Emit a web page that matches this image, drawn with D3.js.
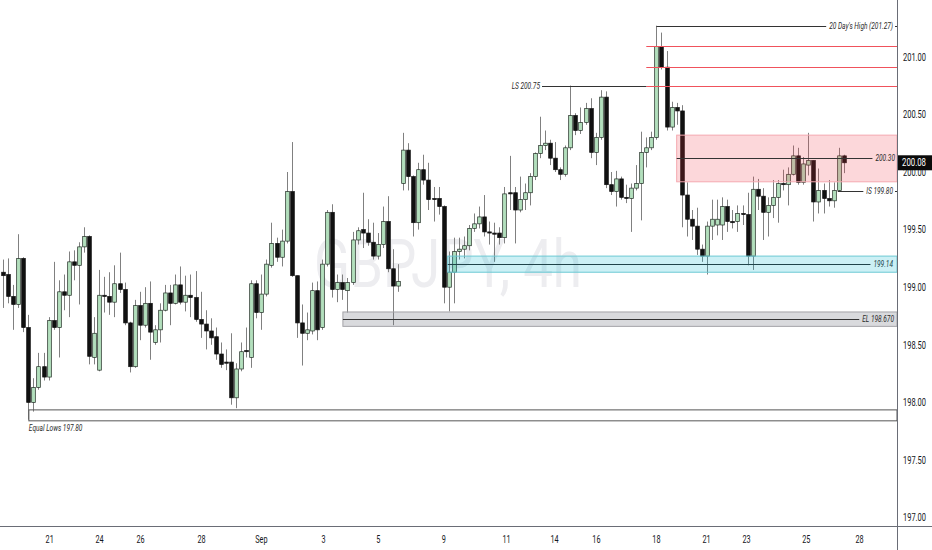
<!DOCTYPE html>
<html>
<head>
<meta charset="utf-8">
<script src="https://cdn.jsdelivr.net/npm/d3@7"></script>
<style>
  body { margin: 0; background: #fff; }
  svg { display: block; font-family: Roboto, "Liberation Sans", sans-serif; }
</style>
</head>
<body>
<svg id="chart"></svg>
<script>
// GBPJPY 4h candles (one entry per candle)
const open = [199.13,199.11,198.92,198.85,199.25,198.65,198.00,198.13,198.31,198.22,198.71,198.65,198.96,198.93,199.22,199.19,199.35,199.44,198.39,198.28,
  198.93,198.92,198.87,199.03,198.98,198.69,198.31,198.84,198.67,198.86,198.52,198.63,198.80,198.95,198.86,199.02,198.87,198.93,198.91,198.72,
  198.68,198.62,198.57,198.42,198.35,198.35,198.04,198.29,198.45,198.39,199.03,198.78,198.94,199.19,199.38,199.26,199.40,199.83,199.10,198.69,
  198.60,198.62,198.97,198.65,199.20,199.65,198.98,199.04,198.97,199.04,199.41,199.50,199.47,199.39,199.27,199.37,199.57,199.16,199.01,199.90,
  200.19,199.96,199.56,200.02,199.93,199.77,199.77,199.70,199.00,199.13,199.31,199.33,199.36,199.51,199.55,199.61,199.48,199.47,199.47,199.43,
  199.82,199.82,199.67,199.76,199.82,199.96,200.16,200.23,200.25,200.12,200.02,199.98,200.21,200.49,200.36,200.43,200.55,200.17,200.30,200.65,
  199.89,199.83,199.94,199.78,199.77,199.86,199.90,200.17,200.21,200.30,201.09,200.91,200.39,200.56,200.53,199.80,199.59,199.53,199.33,199.27,
  199.53,199.54,199.54,199.70,199.57,199.57,199.64,199.63,199.27,199.85,199.79,199.65,199.71,199.78,199.90,199.89,199.98,200.14,199.91,200.06,
  200.10,199.74,199.84,199.77,199.75,199.84,200.14];
const high = [199.24,199.25,199.02,199.46,199.26,198.76,198.21,198.43,198.43,198.74,199.22,199.06,199.11,199.31,199.32,199.39,199.52,199.45,198.74,199.15,
  199.09,199.13,199.19,199.30,199.04,198.70,198.89,198.96,199.00,199.05,198.67,198.86,199.02,199.02,199.11,199.18,199.10,199.11,199.14,198.96,
  198.80,198.73,198.65,198.52,198.46,198.60,198.34,198.52,198.65,199.06,199.06,199.11,199.24,199.56,199.43,199.50,200.00,200.26,199.10,198.85,
  198.78,199.04,199.05,199.24,199.67,199.72,199.11,199.11,199.08,199.48,199.52,199.82,199.59,199.56,199.47,199.70,199.79,199.33,199.20,200.34,
  200.25,199.97,200.08,200.15,200.08,199.87,199.87,199.71,199.31,199.43,199.43,199.44,199.54,199.64,199.70,199.80,199.57,199.56,199.52,199.87,
  200.14,199.87,199.96,199.90,199.99,200.17,200.48,200.36,200.28,200.26,200.04,200.23,200.75,200.51,200.56,200.60,200.64,200.34,200.71,200.70,
  200.00,200.01,199.96,199.89,199.90,200.06,200.35,200.30,200.35,201.27,201.21,201.05,200.61,200.60,200.58,199.91,199.67,199.69,199.37,199.57,
  199.76,199.76,199.78,199.76,199.67,199.71,199.71,199.82,199.96,199.94,199.86,199.78,199.93,199.93,200.02,200.04,200.23,200.21,200.13,200.34,
  200.10,200.03,199.90,199.93,199.91,200.21,200.15];
const low = [198.82,198.86,198.63,198.82,198.61,197.85,197.92,198.11,198.19,198.19,198.63,198.39,198.80,198.74,199.06,198.85,199.30,198.33,198.33,198.27,
  198.78,198.76,198.74,198.95,198.67,198.26,198.30,198.54,198.65,198.37,198.50,198.52,198.79,198.67,198.85,198.85,198.79,198.74,198.70,198.56,
  198.46,198.50,198.37,198.30,198.28,197.98,197.95,198.27,198.39,198.30,198.73,198.63,198.92,199.17,199.22,199.18,199.38,199.09,198.56,198.32,
  198.54,198.59,198.54,198.63,199.18,198.91,198.87,198.89,198.78,199.02,199.37,199.34,199.36,199.24,199.24,199.34,199.13,198.67,198.96,199.84,
  199.84,199.44,199.50,199.89,199.67,199.57,199.63,198.86,198.79,198.86,199.24,199.25,199.32,199.48,199.51,199.44,199.37,199.22,199.37,199.38,
  199.67,199.38,199.65,199.67,199.71,199.93,200.12,200.19,200.06,200.00,199.93,199.96,200.19,200.32,200.33,200.41,200.12,200.06,200.28,199.86,
  199.80,199.70,199.76,199.73,199.48,199.84,199.58,200.04,200.19,200.28,200.89,200.36,200.36,200.41,199.52,199.44,199.41,199.28,199.22,199.11,
  199.41,199.45,199.41,199.48,199.51,199.48,199.54,199.19,199.15,199.67,199.41,199.44,199.60,199.56,199.84,199.71,199.97,199.89,199.89,199.97,
  199.57,199.64,199.64,199.70,199.69,199.83,199.99];
const close = [199.10,198.92,198.85,199.25,198.65,198.00,198.13,198.31,198.22,198.71,198.65,198.96,198.93,199.22,199.19,199.35,199.44,198.40,198.60,198.93,
  198.92,198.87,199.03,198.98,198.69,198.31,198.84,198.67,198.86,198.61,198.63,198.80,198.95,198.86,199.02,198.87,198.93,198.91,198.72,198.68,
  198.62,198.56,198.42,198.33,198.34,198.04,198.29,198.44,198.44,199.03,198.78,198.94,199.20,199.38,199.26,199.40,199.83,199.10,198.69,198.60,
  198.63,198.97,198.63,199.20,199.65,198.98,199.04,198.98,199.04,199.41,199.49,199.47,199.39,199.27,199.37,199.57,199.16,199.01,199.05,200.19,
  199.96,199.56,200.02,199.93,199.76,199.76,199.70,199.00,199.13,199.31,199.33,199.36,199.51,199.55,199.61,199.48,199.47,199.46,199.43,199.81,
  199.81,199.67,199.76,199.82,199.96,200.16,200.23,200.25,200.12,200.02,199.98,200.21,200.49,200.36,200.43,200.55,200.17,200.30,200.65,199.89,
  199.83,199.94,199.78,199.77,199.86,199.90,200.17,200.21,200.30,201.09,200.91,200.39,200.56,200.53,199.80,199.59,199.53,199.33,199.27,199.53,
  199.59,199.59,199.70,199.57,199.56,199.64,199.63,199.27,199.85,199.79,199.65,199.71,199.78,199.90,199.89,199.98,200.14,199.91,200.07,200.10,
  199.74,199.84,199.77,199.75,199.84,200.14,200.08];

// day labels on the time axis and the candle slot they sit at
const tickLabels = ["21","24","26","28","Sep","3","5","9","11","14","16","18","21","23","25","28"];
const tickSlots = [9.1, 18.95, 27.05, 39.1, 50.9, 63.2, 74.0, 86.9, 99.3, 108.8, 117.05, 128.9, 138.8, 146.7, 158.5, 169.0];
const priceTicks = [197, 197.5, 198, 198.5, 199, 199.5, 200, 200.5, 201];

// drawn zones: first candle slot, top price, bottom price
const zoneNames = ["supply", "demand", "el", "equalLows"];
const zoneFrom = [133, 87.8, 67.1, 5.1];
const zoneTop = [200.32, 199.27, 198.785, 197.935];
const zoneBottom = [199.915, 199.13, 198.66, 197.84];

// red levels above the swing high
const redLevels = [201.09, 200.91, 200.75];
const redFrom = 127;

const lastPrice = 200.08;

const W = 932, H = 550;
const plotRight = 897, plotBottom = 527;
const SX = 0.73;           // horizontal squeeze of the screenshot text

const svg = d3.select("#chart").attr("width", W).attr("height", H);
svg.append("rect").attr("width", W).attr("height", H).attr("fill", "#fff");

const x = d3.scaleLinear().domain([-0.6, 176.5]).range([0, plotRight]);
const y = d3.scaleLinear().domain([197, 201]).range([517.6, 56.8]);
const bw = (x(1) - x(0)) * 0.72;

// text helper, squeezed horizontally; returns its on-screen width
function label(g, px, py, str, o = {}) {
  const t = g.append("g").attr("transform", `translate(${px},${py})`)
    .append("text")
    .attr("transform", `scale(${o.sx || SX},1)`)
    .attr("text-anchor", o.anchor || "start")
    .attr("dominant-baseline", "central")
    .attr("font-size", o.size || 9)
    .attr("font-style", o.italic === false ? "normal" : "italic")
    .attr("fill", o.fill || "#2a2a2a")
    .text(str);
  return t.node().getComputedTextLength() * (o.sx || SX);
}

// watermark
svg.append("g").attr("transform", "translate(448,287)")
  .append("text")
  .attr("transform", "scale(0.8,1)")
  .attr("text-anchor", "middle")
  .attr("font-size", 66)
  .attr("fill", "#ededf0")
  .text("GBPJPY, 4h");

const candles = open.map((o, i) => ({ i, o, h: high[i], l: low[i], c: close[i] }));

const chart = svg.append("g");

chart.selectAll(".wick")
  .data(candles)
  .enter()
  .append("line")
  .attr("class", "wick")
  .attr("x1", d => Math.round(x(d.i)) + 0.5)
  .attr("x2", d => Math.round(x(d.i)) + 0.5)
  .attr("y1", d => y(d.h))
  .attr("y2", d => y(d.l))
  .attr("stroke", "#808080")
  .attr("stroke-width", 1);

chart.selectAll(".body")
  .data(candles)
  .enter()
  .append("rect")
  .attr("class", "body")
  .attr("x", d => Math.round(x(d.i)) + 0.5 - bw / 2)
  .attr("y", d => y(Math.max(d.o, d.c)))
  .attr("width", bw)
  .attr("height", d => Math.max(1, Math.abs(y(d.o) - y(d.c))))
  .attr("fill", d => d.c >= d.o ? "#b3dfbd" : "#111")
  .attr("stroke", d => d.c >= d.o ? "#1f2a22" : "#111")
  .attr("stroke-width", 0.7);

// zones
const zoneStyle = {
  supply:    { fill: "rgba(242,54,69,0.2)",  stroke: "#f4a9b0" },
  demand:    { fill: "rgba(0,180,205,0.2)",  stroke: "#6cc9d3" },
  el:        { fill: "rgba(120,123,134,0.28)", stroke: "#a4a4a8" },
  equalLows: { fill: "none",                 stroke: "#555" }
};
const zones = zoneNames.map((n, k) => ({ n, from: zoneFrom[k], top: zoneTop[k], bottom: zoneBottom[k] }));
chart.selectAll(".zone")
  .data(zones)
  .enter()
  .append("rect")
  .attr("class", "zone")
  .attr("x", d => x(d.from))
  .attr("y", d => y(d.top))
  .attr("width", d => plotRight - x(d.from))
  .attr("height", d => y(d.bottom) - y(d.top))
  .attr("fill", d => zoneStyle[d.n].fill)
  .attr("stroke", d => zoneStyle[d.n].stroke)
  .attr("stroke-width", 1);

const ann = svg.append("g");

function hline(x1, x2, price, color) {
  const yy = Math.round(y(price)) + 0.5;
  ann.append("line").attr("x1", x1).attr("x2", x2).attr("y1", yy).attr("y2", yy)
    .attr("stroke", color).attr("stroke-width", 1);
  return yy;
}

// level with a label just left of the price scale
function level(fromSlot, price, text, color, labelEnd, dash) {
  const yy = Math.round(y(price)) + 0.5;
  const w = label(ann, labelEnd, yy, text, { anchor: "end", fill: color === "#333" ? "#2a2a2a" : color });
  hline(x(fromSlot), labelEnd - w - 3, price, color);
  if (dash) hline(labelEnd + 2, plotRight, price, color);
}

// red levels
redLevels.forEach(p => hline(x(redFrom), plotRight, p, "#f0525c"));

// liquidity sweep high
{
  const yy = Math.round(y(200.75)) + 0.5;
  label(ann, 540, yy, "LS 200.75", { anchor: "end" });
  hline(542, x(redFrom), 200.75, "#333");
}

level(129, 201.27, "20 Day's High (201.27)", "#333", 893, true);
level(133, 200.12, "200.30", "#333", 895, false);
level(164.8, 199.835, "IS 199.80", "#333", 893, true);
level(87.8, 199.205, "199.14", "#20444a", 893, false);
level(67.1, 198.725, "EL 198.670", "#333", 894, false);

label(ann, x(5.1), y(197.84) + 7.5, "Equal Lows 197.80", { size: 9 });

// axes
const xAxis = d3.axisBottom(x)
  .tickValues(tickSlots)
  .tickFormat((d, i) => tickLabels[i])
  .tickSize(0)
  .tickPadding(9);
const xg = svg.append("g")
  .attr("transform", `translate(0,${plotBottom})`)
  .call(xAxis);
xg.select(".domain").remove();
xg.selectAll("text")
  .attr("font-size", 10)
  .attr("font-family", "Roboto, 'Liberation Sans', sans-serif")
  .attr("fill", "#131722")
  .attr("transform", `scale(${SX},1)`);

const yAxis = d3.axisRight(y)
  .tickValues(priceTicks)
  .tickFormat(d3.format(".2f"))
  .tickSize(0);
const yg = svg.append("g")
  .attr("transform", `translate(${plotRight},0)`)
  .call(yAxis);
yg.select(".domain").remove();
yg.selectAll("text")
  .attr("font-size", 10)
  .attr("font-family", "Roboto, 'Liberation Sans', sans-serif")
  .attr("fill", "#131722")
  .attr("x", 6 / 0.75)
  .attr("transform", "scale(0.75,1)");

svg.append("line")
  .attr("x1", 0).attr("x2", W)
  .attr("y1", plotBottom - 0.5).attr("y2", plotBottom - 0.5)
  .attr("stroke", "#6a6d76").attr("stroke-width", 1);
svg.append("line")
  .attr("x1", plotRight + 0.5).attr("x2", plotRight + 0.5)
  .attr("y1", 0).attr("y2", H)
  .attr("stroke", "#6a6d76").attr("stroke-width", 1);

// last price tag
const ly = y(lastPrice);
svg.append("rect")
  .attr("x", plotRight + 1).attr("y", ly - 7.5)
  .attr("width", W - plotRight - 1).attr("height", 15)
  .attr("fill", "#0b0b0b");
label(svg, plotRight + 5, ly, d3.format(".2f")(lastPrice), { size: 10, sx: 0.78, italic: false, fill: "#fff" });
</script>
</body>
</html>
